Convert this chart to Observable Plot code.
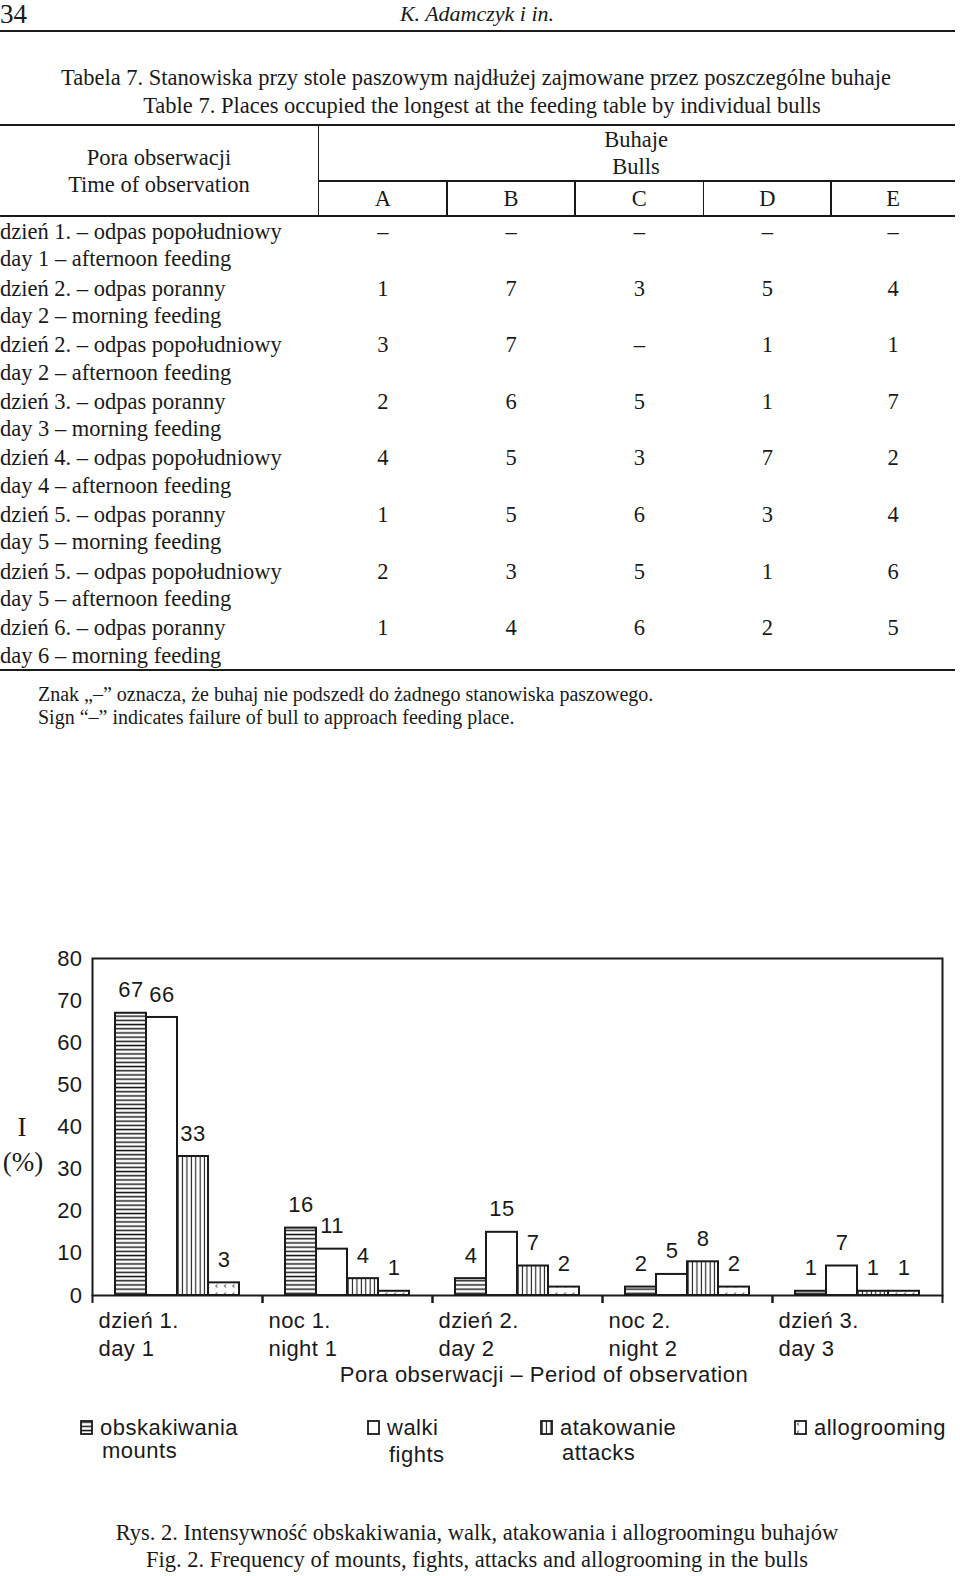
<!DOCTYPE html>
<html><head><meta charset="utf-8">
<script src="https://cdn.jsdelivr.net/npm/d3@7"></script>
<script src="https://cdn.jsdelivr.net/npm/@observablehq/plot@0.6"></script>
<style>
body{margin:0;background:#fff;}
#page{position:relative;width:960px;height:1576px;overflow:hidden;background:#fff;color:#1a1a1a;}
.t{position:absolute;white-space:nowrap;}
.serif{font-family:"Liberation Serif","Times New Roman",serif;}
.sans{font-family:"Liberation Sans",Arial,sans-serif;letter-spacing:0.5px;}
.rule{position:absolute;background:#1a1a1a;}
</style></head><body>
<svg width="0" height="0" style="position:absolute">
<defs>
 <pattern id="pMounts" patternUnits="userSpaceOnUse" width="10" height="4.2">
  <rect width="10" height="4.2" fill="#fff"/>
  <rect y="1.4" width="10" height="1.5" fill="#1a1a1a"/>
 </pattern>
 <pattern id="pAttacks" patternUnits="userSpaceOnUse" width="4.4" height="10">
  <rect width="4.4" height="10" fill="#fff"/>
  <rect x="1.6" width="1.1" height="10" fill="#1a1a1a"/>
 </pattern>
 <pattern id="pGroom" patternUnits="userSpaceOnUse" width="8.5" height="8">
  <rect width="8.5" height="8" fill="#fff"/>
  <path d="M5,2.5 L3.2,4 L5,5.5" fill="none" stroke="#1a1a1a" stroke-width="0.9"/>
 </pattern>
</defs></svg>
<div id="page"></div>
<script>
// ---------- table data ----------
const bulls = ["A", "B", "C", "D", "E"];
const timesPl = ["dzień 1. – odpas popołudniowy", "dzień 2. – odpas poranny", "dzień 2. – odpas popołudniowy", "dzień 3. – odpas poranny", "dzień 4. – odpas popołudniowy", "dzień 5. – odpas poranny", "dzień 5. – odpas popołudniowy", "dzień 6. – odpas poranny"];
const timesEn = ["day 1 – afternoon feeding", "day 2 – morning feeding", "day 2 – afternoon feeding", "day 3 – morning feeding", "day 4 – afternoon feeding", "day 5 – morning feeding", "day 5 – afternoon feeding", "day 6 – morning feeding"];
const places = [
  [null, null, null, null, null],
  [1, 7, 3, 5, 4],
  [3, 7, null, 1, 1],
  [2, 6, 5, 1, 7],
  [4, 5, 3, 7, 2],
  [1, 5, 6, 3, 4],
  [2, 3, 5, 1, 6],
  [1, 4, 6, 2, 5]
];

// ---------- chart data ----------
const periodsPl = ["dzień 1.", "noc 1.", "dzień 2.", "noc 2.", "dzień 3."];
const periodsEn = ["day 1", "night 1", "day 2", "night 2", "day 3"];
const behaviorsPl = ["obskakiwania", "walki", "atakowanie", "allogrooming"];
const behaviorsEn = ["mounts", "fights", "attacks", ""];
const mounts = [67, 16, 4, 2, 1];
const fights = [66, 11, 15, 5, 7];
const attacks = [33, 4, 7, 8, 1];
const allogrooming = [3, 1, 2, 2, 1];
const yTicks = [0, 10, 20, 30, 40, 50, 60, 70, 80];
const fills = ["url(#pMounts)", "#fff", "url(#pAttacks)", "url(#pGroom)"];

const series = [mounts, fights, attacks, allogrooming];
const data = periodsPl.flatMap((p, i) => behaviorsPl.map((b, j) => ({period: p, behavior: b, value: series[j][i]})));
const periodRows = periodsPl.map((p, i) => ({period: p, label: p + "\n" + periodsEn[i]}));

const page = document.getElementById("page");
function txt(s, x, yc, o = {}) {
  const d = document.createElement("div");
  const size = o.size || 22.5, lh = o.lh || 28;
  d.className = "t " + (o.cls || "serif");
  d.textContent = s;
  d.style.left = x + "px";
  d.style.top = (yc - lh / 2) + "px";
  d.style.fontSize = size + "px";
  d.style.lineHeight = lh + "px";
  if (o.italic) d.style.fontStyle = "italic";
  if (o.anchor === "middle") d.style.transform = "translateX(-50%)";
  if (o.anchor === "end") d.style.transform = "translateX(-100%)";
  page.appendChild(d);
  return d;
}
function rule(x1, x2, y, h = 2) {
  const d = document.createElement("div");
  d.className = "rule";
  d.style.left = x1 + "px"; d.style.width = (x2 - x1) + "px";
  d.style.top = (y - h / 2) + "px"; d.style.height = h + "px";
  page.appendChild(d);
}
function vrule(x, y1, y2, w = 1.6) {
  const d = document.createElement("div");
  d.className = "rule";
  d.style.left = (x - w / 2) + "px"; d.style.width = w + "px";
  d.style.top = y1 + "px"; d.style.height = (y2 - y1) + "px";
  page.appendChild(d);
}

// ---------- page header ----------
txt("34", 0, 14, {size: 27, lh: 32});
txt("K. Adamczyk i in.", 477, 14, {size: 22, italic: true, anchor: "middle"});
rule(0, 955, 31, 2);

// ---------- table ----------
txt("Tabela 7. Stanowiska przy stole paszowym najdłużej zajmowane przez poszczególne buhaje", 476, 77.5, {anchor: "middle"});
txt("Table 7. Places occupied the longest at the feeding table by individual bulls", 482, 105.5, {anchor: "middle"});
rule(0, 955, 124.6, 2);
txt("Pora obserwacji", 159, 158, {anchor: "middle"});
txt("Time of observation", 159, 185, {anchor: "middle"});
txt("Buhaje", 636, 140, {anchor: "middle"});
txt("Bulls", 636, 167, {anchor: "middle"});
rule(318.6, 955, 181, 2);
const colEdges = [318.6, 447, 575, 703.5, 831, 955];
vrule(318.6, 124.6, 216);
for (let k = 1; k < 5; k++) vrule(colEdges[k], 181, 216);
bulls.forEach((b, k) => txt(b, (colEdges[k] + colEdges[k + 1]) / 2, 199, {anchor: "middle"}));
rule(0, 955, 216, 2);
timesPl.forEach((t, i) => {
  const y = 232 + 56.6 * i;
  txt(t, 0, y);
  txt(timesEn[i], 0, y + 27.3);
  places[i].forEach((v, k) => txt(v == null ? "–" : String(v), (colEdges[k] + colEdges[k + 1]) / 2, y, {anchor: "middle"}));
});
rule(0, 955, 670, 2);
txt("Znak „–” oznacza, że buhaj nie podszedł do żadnego stanowiska paszowego.", 38, 693.5, {size: 20, lh: 24});
txt("Sign “–” indicates failure of bull to approach feeding place.", 38, 716.6, {size: 20, lh: 24});

// ---------- chart ----------
const W = 960, ML = 92, MR = 18;
const band = (W - ML - MR) / periodsPl.length;
const chart = Plot.plot({
  width: W,
  height: 470,
  marginLeft: ML,
  marginRight: MR,
  marginTop: 28,
  marginBottom: 105,
  style: {fontFamily: "'Liberation Sans', Arial, sans-serif", fontSize: "22px", letterSpacing: "0.4px", background: "transparent", overflow: "visible", color: "#1a1a1a"},
  fx: {domain: periodsPl, padding: 0, label: null},
  x: {domain: behaviorsPl, paddingInner: 0, paddingOuter: 0.72, axis: null},
  y: {domain: [0, 80]},
  color: {domain: behaviorsPl, range: fills},
  marks: [
    Plot.barY(data, {fx: "period", x: "behavior", y: "value", fill: "behavior", stroke: "#1a1a1a", strokeWidth: 2}),
    Plot.text(data, {fx: "period", x: "behavior", y: "value", text: "value", dy: -23, fontSize: 22}),
    Plot.axisY({ticks: yTicks, tickSize: 0, tickPadding: 10, fontSize: 22, label: null}),
    Plot.axisFx({anchor: "bottom", tickSize: 8, tickFormat: () => "", dx: -band / 2, strokeWidth: 2, label: null}),
    Plot.axisFx({anchor: "bottom", tickSize: 8, tickFormat: () => "", dx: band / 2, strokeWidth: 2, label: null}),
    Plot.text(periodRows, {fx: "period", text: "label", frameAnchor: "bottom-left", textAnchor: "start", lineAnchor: "top", dx: 6, dy: 13, lineHeight: 1.25, fontSize: 22}),
    Plot.frame({facet: "super", stroke: "#1a1a1a", strokeWidth: 2})
  ]
});
chart.style.position = "absolute";
chart.style.left = "0px";
chart.style.top = "930px";
page.appendChild(chart);

txt("I", 22, 1127, {size: 27, lh: 32, anchor: "middle"});
txt("(%)", 23, 1162, {size: 27, lh: 32, anchor: "middle"});
txt("Pora obserwacji – Period of observation", 544, 1375, {cls: "sans", size: 22, lh: 26, anchor: "middle"});

// ---------- legend ----------
const legendX = [80, 367, 540, 794];
const legendY2 = [1451, 1455, 1453, 0];
behaviorsPl.forEach((b, j) => {
  const x = legendX[j];
  const svg = document.createElementNS("http://www.w3.org/2000/svg", "svg");
  svg.setAttribute("width", 14); svg.setAttribute("height", 16);
  svg.style.position = "absolute";
  svg.style.left = x + "px"; svg.style.top = "1420px";
  const r = document.createElementNS("http://www.w3.org/2000/svg", "rect");
  r.setAttribute("x", 1); r.setAttribute("y", 1); r.setAttribute("width", 11); r.setAttribute("height", 13);
  r.setAttribute("fill", fills[j]); r.setAttribute("stroke", "#1a1a1a"); r.setAttribute("stroke-width", 1.8);
  svg.appendChild(r);
  page.appendChild(svg);
  txt(b, x + 20, 1428, {cls: "sans", size: 22, lh: 26});
  if (behaviorsEn[j]) txt(behaviorsEn[j], x + 22, legendY2[j], {cls: "sans", size: 22, lh: 26});
});

// ---------- figure caption ----------
txt("Rys. 2. Intensywność obskakiwania, walk, atakowania i allogroomingu buhajów", 477, 1533, {anchor: "middle"});
txt("Fig. 2. Frequency of mounts, fights, attacks and allogrooming in the bulls", 477, 1560, {anchor: "middle"});
</script>
</body></html>
